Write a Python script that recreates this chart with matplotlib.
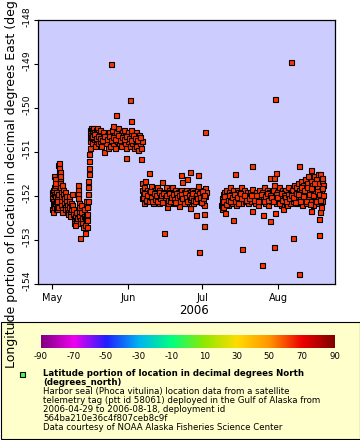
import matplotlib
matplotlib.use("Agg")
import matplotlib.pyplot as plt
import matplotlib.transforms as mtransforms
from matplotlib.colors import LinearSegmentedColormap
from matplotlib.patches import Rectangle
from matplotlib.lines import Line2D
from datetime import datetime, timedelta
import numpy as np

# ---------------- data (days after 2006-05-01, longitude degrees East) ----------------
BASE_DATE = datetime(2006, 5, 1)

seg_early_may = [
    (-0.2, -151.90), (-0.1, -152.30), (0.0, -152.05), (0.1, -152.20), (0.2, -151.85), (0.3, -152.35),
    (0.4, -152.10), (0.5, -152.25), (0.6, -151.95), (0.7, -152.15), (0.7, -151.55), (0.8, -151.80),
    (0.9, -151.60), (1.0, -151.75), (1.1, -151.70), (1.2, -152.00), (1.3, -152.15), (1.4, -152.30),
    (1.5, -152.10), (1.6, -151.90), (1.8, -152.00), (1.9, -152.20), (2.0, -152.30), (2.1, -152.10),
    (2.2, -151.95), (2.3, -152.25),
    (2.5, -151.30), (2.6, -151.25), (2.7, -151.40), (2.8, -151.35), (2.9, -151.50), (3.0, -151.45),
    (3.1, -151.60), (3.1, -151.55), (3.2, -151.70), (3.3, -151.80), (3.4, -151.90), (3.5, -152.00),
    (3.6, -152.10), (3.7, -152.20), (3.8, -152.30), (3.9, -152.35),
    (4.1, -151.75), (4.3, -151.85), (4.5, -151.95), (4.7, -152.05), (4.8, -152.15), (5.0, -152.25),
    (5.1, -152.30), (5.3, -151.90), (5.5, -152.00), (5.7, -152.10), (5.9, -152.20), (6.1, -152.30),
    (6.3, -152.35), (6.5, -152.40), (6.6, -152.00), (6.8, -152.10), (7.0, -152.25), (7.2, -152.35),
    (7.4, -152.45), (7.6, -152.30), (7.8, -152.15), (8.0, -151.95), (8.2, -152.20), (8.4, -152.30),
    (8.6, -152.40), (8.8, -152.50), (9.0, -152.60), (9.2, -152.65), (9.4, -152.45), (9.6, -152.55),
    (9.8, -152.35), (10.0, -152.50),
    (10.3, -151.75), (10.4, -151.85), (10.5, -151.95), (10.6, -152.05), (10.7, -152.15), (10.8, -152.25),
    (10.9, -152.35), (11.0, -152.45), (11.1, -152.55), (11.2, -152.62), (11.2, -152.95),
    (11.5, -152.20), (11.8, -152.35), (12.0, -152.50), (12.2, -152.60), (12.5, -152.70), (12.8, -152.45),
    (13.0, -152.30), (13.2, -152.50), (13.3, -152.84), (13.4, -152.65), (13.6, -152.55), (13.8, -152.40),
    (13.9, -152.10),
    (14.0, -152.70), (14.1, -152.55), (14.2, -152.40), (14.3, -152.25), (14.4, -152.10), (14.5, -151.95),
    (14.6, -151.80), (14.7, -151.65), (14.8, -151.50), (14.9, -151.35), (15.0, -151.20), (15.1, -151.05),
    (15.2, -150.90), (15.3, -150.75), (15.4, -150.60), (15.5, -150.50),
]

seg_late_may = [
    (15.6, -150.45), (15.8, -150.65), (16.0, -150.50), (16.2, -150.80), (16.4, -150.60), (16.6, -150.45),
    (16.8, -150.70), (17.0, -150.55), (17.2, -150.85), (17.4, -150.65), (17.6, -150.50), (17.8, -150.75),
    (18.0, -150.60), (18.2, -150.45), (18.4, -150.70), (18.6, -150.80), (18.8, -150.55), (19.0, -150.65),
    (19.3, -150.75), (19.6, -150.50), (19.9, -150.85), (20.2, -150.60), (20.5, -150.70), (20.8, -150.55),
    (21.1, -150.99), (21.4, -150.75), (21.7, -150.65), (22.0, -150.80), (22.3, -150.60), (22.6, -150.90),
    (22.9, -150.70), (23.2, -150.55), (23.5, -150.85), (23.8, -150.65), (24.1, -150.75), (24.4, -150.50),
    (24.7, -150.80), (25.0, -150.60), (25.3, -150.70), (25.6, -150.90), (25.9, -150.55), (26.2, -150.75),
    (26.5, -150.65), (26.8, -150.45), (27.1, -150.80), (27.4, -150.60), (27.7, -150.70), (28.0, -150.85),
    (28.3, -150.55), (28.6, -150.75), (28.9, -150.65), (29.2, -150.50), (29.5, -150.80), (29.8, -150.60),
    (30.1, -150.90), (30.4, -150.70), (30.7, -150.55), (31.0, -150.75), (31.3, -150.65), (31.6, -150.85),
    (31.9, -150.60), (32.2, -150.50), (32.5, -150.80), (32.8, -150.70), (33.1, -150.60), (33.4, -150.90),
    (33.7, -150.75), (34.0, -150.55), (34.3, -150.85), (34.6, -150.65), (34.9, -150.95), (35.2, -150.70),
    (35.5, -150.60), (35.8, -150.80), (36.1, -150.90), (36.4, -150.75),
    (16.1, -150.62), (16.9, -150.58), (17.7, -150.68), (18.5, -150.62), (19.4, -150.68), (20.3, -150.72),
    (21.2, -150.62), (22.1, -150.70), (23.0, -150.62), (23.9, -150.72), (24.8, -150.65), (25.7, -150.70),
    (26.6, -150.60), (27.5, -150.72), (28.4, -150.65), (29.3, -150.70), (30.2, -150.62), (31.1, -150.68),
    (32.0, -150.72), (32.9, -150.60), (33.8, -150.68), (34.7, -150.72), (35.6, -150.65),
    (23.8, -148.98), (31.5, -149.81), (25.8, -150.15), (32.1, -150.28), (24.7, -150.40), (30.0, -151.12),
    (36.1, -151.15),
]

seg_june = [
    (36.5, -151.85), (36.6, -151.70), (36.7, -152.05), (36.9, -151.95), (37.2, -152.16), (37.4, -151.80),
    (37.6, -152.00), (37.8, -151.65), (38.0, -151.90), (38.2, -152.10), (38.4, -151.85), (38.7, -152.00),
    (38.9, -151.95), (39.1, -152.05), (39.4, -151.47), (39.6, -151.90), (39.9, -152.10), (40.1, -151.85),
    (40.4, -151.76), (40.6, -152.00), (40.9, -151.95), (41.1, -152.15), (41.4, -151.85), (41.6, -152.05),
    (41.9, -151.90), (42.1, -152.10), (42.4, -152.00), (42.6, -151.80), (42.9, -152.05), (43.1, -151.95),
    (43.4, -152.15), (43.6, -151.85), (43.9, -152.00), (44.1, -152.10), (44.4, -151.90), (44.6, -151.67),
    (44.9, -152.05), (45.1, -151.95), (45.5, -152.83), (45.7, -152.10), (46.0, -151.90), (46.2, -151.80),
    (46.4, -152.05), (46.6, -152.24), (46.9, -151.95), (47.1, -152.15), (47.4, -151.85), (47.6, -152.05),
    (47.9, -152.00), (48.1, -151.90), (48.4, -152.10), (48.6, -151.95), (48.8, -151.78), (49.1, -152.05),
    (49.4, -151.90), (49.6, -152.15), (49.9, -152.00), (50.1, -151.85), (50.4, -152.10), (50.6, -151.95),
    (50.9, -152.05), (51.1, -151.90), (51.4, -152.15), (51.6, -152.22), (51.9, -151.95), (52.1, -152.05),
    (52.4, -151.52), (52.6, -151.85), (52.8, -151.68), (53.1, -152.00), (53.4, -152.10), (53.6, -151.90),
    (53.9, -152.05), (54.1, -151.95), (54.4, -152.15), (54.6, -151.85), (54.9, -151.61), (55.1, -152.00),
    (55.4, -152.10), (55.6, -151.90), (55.9, -152.05), (56.1, -151.44), (56.1, -152.26), (56.4, -151.95),
    (56.6, -152.10), (56.9, -151.85), (57.1, -152.00), (57.4, -152.15), (57.6, -151.90), (57.9, -152.05),
    (58.1, -151.95), (58.5, -152.43), (58.7, -152.10), (58.9, -151.85), (59.2, -151.52), (59.2, -151.77),
    (59.5, -152.00), (59.8, -153.26), (60.0, -152.10), (60.3, -151.90), (60.6, -152.05), (60.9, -151.95),
    (61.2, -152.15), (61.5, -151.85), (61.8, -152.41), (61.8, -152.68), (61.9, -152.20), (62.1, -150.55),
    (62.2, -151.81), (62.3, -152.00), (62.5, -151.90),
    (37.0, -152.02), (37.5, -151.92), (38.1, -152.08), (38.6, -151.98), (39.2, -152.12), (39.7, -151.88),
    (40.3, -152.03), (40.8, -152.10), (41.3, -151.93), (41.8, -152.07), (42.3, -151.97), (42.8, -152.12),
    (43.3, -151.90), (43.8, -152.05), (44.3, -151.98), (44.8, -152.13), (45.3, -151.92), (45.9, -152.03),
    (46.5, -151.97), (47.0, -152.08), (47.5, -151.93), (48.0, -152.12), (48.5, -152.02), (49.0, -151.95),
    (49.5, -152.07), (50.0, -152.13), (50.5, -151.92), (51.0, -152.03), (51.5, -151.98), (52.0, -152.10),
    (52.5, -151.95), (53.0, -152.05), (53.5, -152.15), (54.0, -151.92), (54.5, -152.02), (55.0, -152.12),
    (55.5, -151.97), (56.0, -152.07), (56.5, -152.02), (57.0, -151.93), (57.5, -152.08), (58.0, -152.12),
    (58.6, -151.97), (59.0, -152.05), (59.6, -151.92), (60.1, -152.02), (60.5, -152.13), (61.0, -151.88),
    (61.4, -152.05), (62.0, -151.97),
]

seg_july_aug = [
    (68.8, -152.20), (69.0, -152.30), (69.2, -152.05), (69.3, -152.15), (69.5, -152.24), (69.7, -151.95),
    (69.8, -152.05), (70.1, -151.90), (70.3, -152.38), (70.6, -152.10), (70.9, -151.85), (71.2, -152.00),
    (71.5, -152.20), (71.8, -151.90), (72.1, -152.10), (72.4, -151.80), (72.7, -152.05), (73.0, -151.95),
    (73.3, -152.15), (73.5, -152.54), (73.8, -151.85), (74.1, -152.05), (74.4, -151.49), (74.6, -151.95),
    (74.9, -152.20), (75.2, -151.85), (75.5, -152.05), (75.8, -151.90), (76.1, -152.10), (76.4, -152.00),
    (76.7, -151.80), (77.0, -152.15), (77.3, -153.20), (77.6, -151.95), (77.9, -152.05), (78.2, -151.85),
    (78.5, -152.10), (78.8, -152.00), (79.2, -151.90), (79.6, -152.15), (80.0, -152.00), (80.4, -151.90),
    (80.8, -152.10), (81.3, -151.31), (81.3, -151.84), (81.3, -152.33), (81.7, -152.00), (82.1, -151.95),
    (82.5, -152.15), (82.9, -151.90), (83.3, -152.05), (83.7, -152.20), (84.1, -151.85), (84.5, -152.00),
    (84.9, -152.10), (85.3, -153.57), (85.5, -151.90), (85.8, -152.44), (86.0, -152.05), (86.3, -151.80),
    (86.6, -152.15), (86.9, -151.95), (87.2, -152.05), (87.5, -151.85), (87.8, -152.20), (88.1, -152.00),
    (88.4, -151.90), (88.7, -152.57), (88.8, -151.58), (89.1, -152.10), (89.4, -151.95), (89.7, -152.05),
    (90.0, -151.85), (90.3, -151.58), (90.3, -151.75), (90.3, -153.15), (90.6, -149.79), (90.7, -152.38),
    (90.9, -152.00), (91.1, -151.47), (91.3, -152.15), (91.6, -151.90), (91.9, -152.05), (92.2, -151.80),
    (92.5, -152.10), (92.8, -151.95), (93.1, -152.20), (93.4, -151.85), (93.7, -152.00), (94.0, -152.29),
    (94.3, -151.90), (94.6, -152.10), (94.9, -151.85), (95.2, -152.05), (95.5, -151.95), (95.8, -152.20),
    (96.1, -151.80), (96.4, -152.00), (96.7, -152.15), (97.1, -148.95), (97.2, -151.90), (97.5, -152.05),
    (97.8, -151.85), (98.0, -152.95), (98.2, -152.10), (98.5, -151.75), (98.8, -151.95), (99.1, -152.15),
    (99.4, -151.80), (99.7, -152.00), (100.0, -151.70), (100.3, -152.10), (100.5, -151.31), (100.5, -153.77),
    (100.7, -151.85), (101.0, -152.05), (101.3, -151.65), (101.6, -151.95), (101.9, -152.20), (102.2, -151.75),
    (102.5, -152.05), (102.8, -151.60), (103.1, -151.90), (103.4, -152.15), (103.7, -151.70), (104.0, -152.00),
    (104.3, -151.55), (104.6, -151.85), (104.9, -152.10), (105.2, -151.65), (105.4, -151.40), (105.4, -152.33),
    (105.7, -151.95), (106.0, -151.75), (106.3, -152.20), (106.6, -151.55), (106.9, -151.90), (107.2, -152.05),
    (107.5, -151.60), (107.8, -151.80), (108.1, -152.15), (108.3, -151.50), (108.5, -152.52), (108.5, -152.89),
    (108.7, -151.70), (108.9, -152.00), (109.1, -151.49), (109.1, -152.35), (109.3, -151.85), (109.5, -152.25),
    (109.7, -151.65), (109.9, -151.59), (110.0, -152.10), (110.1, -151.75),
    (69.4, -152.10), (70.0, -152.00), (70.7, -152.18), (71.4, -152.08), (72.0, -151.97), (72.6, -152.12),
    (73.2, -152.03), (73.9, -151.95), (74.5, -152.10), (75.1, -152.02), (75.7, -152.15), (76.3, -151.93),
    (76.9, -152.05), (78.0, -151.98), (79.0, -152.08), (80.2, -152.05), (81.0, -151.97), (82.0, -152.08),
    (83.0, -151.98), (84.0, -152.12), (85.0, -151.95), (86.1, -152.10), (86.8, -152.00), (87.4, -151.93),
    (88.0, -152.08), (88.6, -151.98), (89.3, -152.03), (90.1, -152.12), (91.0, -151.95), (91.7, -152.02),
    (92.4, -152.15), (93.0, -151.92), (93.6, -152.08), (94.2, -151.98), (94.8, -152.03), (95.4, -152.12),
    (96.0, -151.95), (96.6, -152.05), (97.4, -151.98), (98.1, -152.02), (98.7, -152.13), (99.3, -151.92),
    (100.1, -151.95), (100.8, -152.12), (101.5, -151.80), (102.0, -152.00), (102.6, -151.85), (103.2, -152.10),
    (103.9, -151.78), (104.5, -151.95), (105.0, -152.18), (105.6, -151.82), (106.2, -151.98), (106.8, -151.70),
    (107.4, -152.12), (108.0, -151.88), (108.6, -151.95), (109.2, -152.08), (109.8, -151.82), (110.1, -151.98),
]

month_tick_dates = [datetime(2006, 5, 1), datetime(2006, 6, 1), datetime(2006, 7, 1), datetime(2006, 8, 1)]
month_tick_labels = ["May", "Jun", "Jul", "Aug"]
lon_ticks = [-154, -153, -152, -151, -150, -149, -148]
lon_tick_labels = ["-154", "-153", "-152", "-151", "-150", "-149", "-148"]
cbar_ticks = [-90, -70, -50, -30, -10, 10, 30, 50, 70, 90]
cbar_colors = ["#800080", "#EE00EE", "#2020FF", "#00B4F0", "#00FF80",
               "#90E800", "#FFDC00", "#FF9600", "#EE0000", "#800000"]
year_label = "2006"
y_label = "Longitude portion of location in decimal degrees East (degrees_east)"
legend_bold = ["Latitude portion of location in decimal degrees North", "(degrees_north)"]
legend_lines = [
    "Harbor seal (Phoca vitulina) location data from a satellite",
    "telemetry tag (ptt id 58061) deployed in the Gulf of Alaska from",
    "2006-04-29 to 2006-08-18, deployment id",
    "564ba210e36c4f807ceb8c9f",
    "Data courtesy of NOAA Alaska Fisheries Science Center",
]

# ---------------- figure ----------------
W, H = 360, 440
DPI = 100
fig = plt.figure(figsize=(W / DPI, H / DPI), dpi=DPI)
fig.patch.set_facecolor("white")


def fx(px):
    return px / W


def fy(py):
    return 1 - py / H


ax_l, ax_r, ax_t, ax_b = 37.7, 335.3, 20.5, 284.0
ax = fig.add_axes([fx(ax_l), fy(ax_b), (ax_r - ax_l) / W, (ax_b - ax_t) / H])
ax.set_facecolor("#CCCCFF")

points = seg_early_may + seg_late_may + seg_june + seg_july_aug
dates = [BASE_DATE + timedelta(days=d) for d, _ in points]
lons = [v for _, v in points]
ax.plot(dates, lons, linestyle="none", marker="s", markersize=3.6,
        markerfacecolor="#FF3300", markeredgecolor="black", markeredgewidth=0.8)

ax.set_xlim(BASE_DATE + timedelta(days=-5.95), BASE_DATE + timedelta(days=115.3))
ax.set_ylim(-154, -148)
ax.set_xticks(month_tick_dates)
ax.set_xticklabels(month_tick_labels)
ax.set_yticks(lon_ticks)
ax.set_yticklabels(lon_tick_labels, rotation=90, va="center")
ax.tick_params(axis="x", direction="out", length=3.6, width=0.8, pad=3, labelsize=7)
ax.tick_params(axis="y", direction="out", length=3.0, width=0.8, pad=1.5, labelsize=6.6)
for s in ax.spines.values():
    s.set_linewidth(0.9)
offset = mtransforms.ScaledTranslation(0, 3.5 / DPI, fig.dpi_scale_trans)
for lbl in ax.get_yticklabels():
    lbl.set_transform(lbl.get_transform() + offset)

fig.text(fx(194), fy(310.5), year_label, fontsize=8.5, ha="center", va="center")
fig.text(fx(12), fy(152), y_label, fontsize=9, rotation=90, ha="center", va="center", zorder=5)

# legend box
fig.add_artist(Rectangle((fx(0.5), fy(438.5)), 359 / W, (438.5 - 321.5) / H,
                         transform=fig.transFigure, facecolor="#FFFFCC",
                         edgecolor="black", linewidth=0.8, zorder=-1))

# colorbar
cmap = LinearSegmentedColormap.from_list(
    "rainbow2", list(zip(np.linspace(0, 1, len(cbar_colors)), cbar_colors)))
cb_l, cb_r, cb_t, cb_b = 40.7, 334.7, 335.0, 348.3
cax = fig.add_axes([fx(cb_l), fy(cb_b), (cb_r - cb_l) / W, (cb_b - cb_t) / H])
grad = np.linspace(cbar_ticks[0], cbar_ticks[-1], 512)[None, :]
cax.imshow(grad, aspect="auto", cmap=cmap, extent=[cbar_ticks[0], cbar_ticks[-1], 0, 1])
cax.set_xlim(cbar_ticks[0], cbar_ticks[-1])
cax.set_yticks([])
cax.set_xticks(cbar_ticks)
cax.set_xticklabels([str(t) for t in cbar_ticks])
cax.tick_params(axis="x", length=0, pad=3, labelsize=6.2)
for s in cax.spines.values():
    s.set_visible(False)

# legend marker and text
fig.add_artist(Line2D([fx(21.5)], [fy(373.5)], transform=fig.transFigure, marker="s",
                      markersize=3.6, markerfacecolor="#44FF44", markeredgecolor="black",
                      markeredgewidth=0.8, linestyle="none"))
baselines = [375.5, 384.5, 393.5, 402.7, 411.8, 420.8, 430.0]
texts = legend_bold + legend_lines
for i, (t, b) in enumerate(zip(texts, baselines)):
    fig.text(fx(43), fy(b), t, fontsize=6.2, ha="left", va="baseline",
             fontweight="bold" if i < len(legend_bold) else "normal")

fig.savefig("out.png", dpi=DPI)
